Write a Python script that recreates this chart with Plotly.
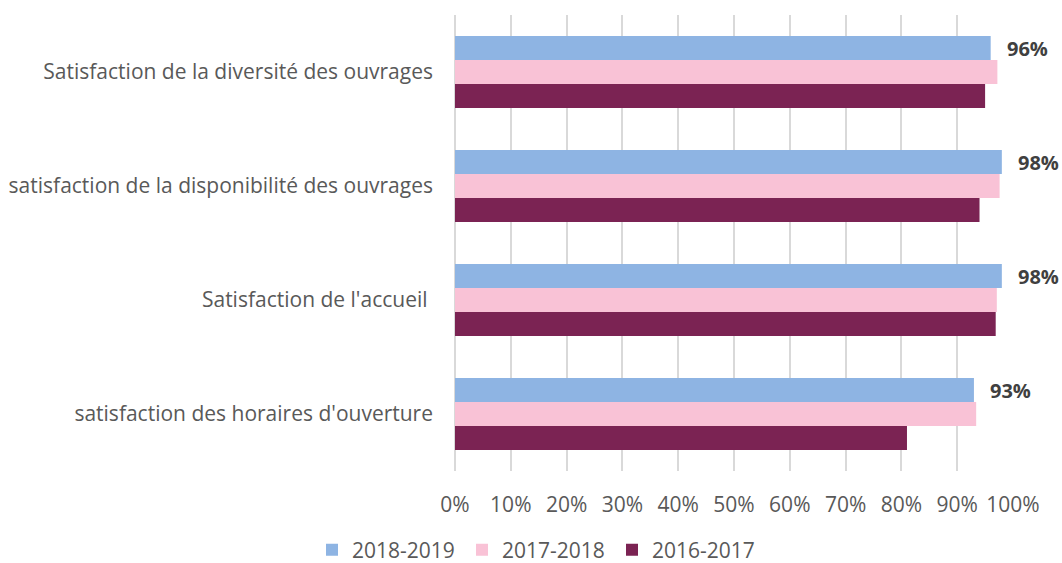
import plotly.graph_objects as go

categories = [
    "Satisfaction de la diversité des ouvrages",
    "satisfaction de la disponibilité des ouvrages",
    "Satisfaction de l'accueil ",
    "satisfaction des horaires d'ouverture",
]
series_names = ["2018-2019", "2017-2018", "2016-2017"]
values_2018_2019 = [0.96, 0.98, 0.98, 0.93]
values_2017_2018 = [0.972, 0.976, 0.971, 0.934]
values_2016_2017 = [0.95, 0.94, 0.969, 0.81]
labels_2018_2019 = ["96%", "98%", "98%", "93%"]
colors = ["#8EB4E3", "#F9C2D6", "#7B2353"]

FONT = "Open Sans"
FS = 21
fig = go.Figure()
for name, vals, col in zip(series_names, [values_2018_2019, values_2017_2018, values_2016_2017], colors):
    fig.add_trace(go.Bar(
        y=categories, x=vals, name=name, orientation="h",
        marker=dict(color=col, line=dict(width=0)),
        hoverinfo="x+name",
    ))

for cat, v, lab in zip(categories, values_2018_2019, labels_2018_2019):
    fig.add_annotation(
        x=v, y=cat, text=lab, showarrow=False, xanchor="left", yanchor="middle",
        xshift=14, yshift=24, font=dict(family=FONT, size=20, color="#404040", weight="bold"),
    )

fig.update_layout(
    width=1062, height=563,
    margin=dict(l=455, r=49, t=15, b=92, autoexpand=False),
    paper_bgcolor="white", plot_bgcolor="white",
    barmode="group", bargap=0.37, bargroupgap=0,
    font=dict(family=FONT, size=FS, color="#595959"),
    showlegend=True,
    legend=dict(orientation="h", x=0.5 + 6 / 1062, xanchor="center", xref="container",
                y=13 / 563, yanchor="middle", yref="container", traceorder="normal",
                font=dict(family=FONT, size=FS, color="#595959"),
                itemwidth=30, entrywidth=105, entrywidthmode="pixels"),
)
fig.update_xaxes(
    range=[0, 1], tickformat=".0%", dtick=0.1, tick0=0,
    showgrid=True, gridcolor="#D9D9D9", gridwidth=2,
    zeroline=True, zerolinecolor="#D9D9D9", zerolinewidth=2,
    showline=False, ticks="", ticklabelstandoff=19, automargin=False,
    tickfont=dict(family=FONT, size=FS, color="#595959"),
)
fig.update_yaxes(
    autorange="reversed", showgrid=False, showline=False, ticks="",
    ticklabelstandoff=21, automargin=False,
    tickfont=dict(family=FONT, size=FS, color="#595959"),
)

fig.write_html("out.html", config={"displayModeBar": False},
               post_script="document.body.style.margin='0';")
